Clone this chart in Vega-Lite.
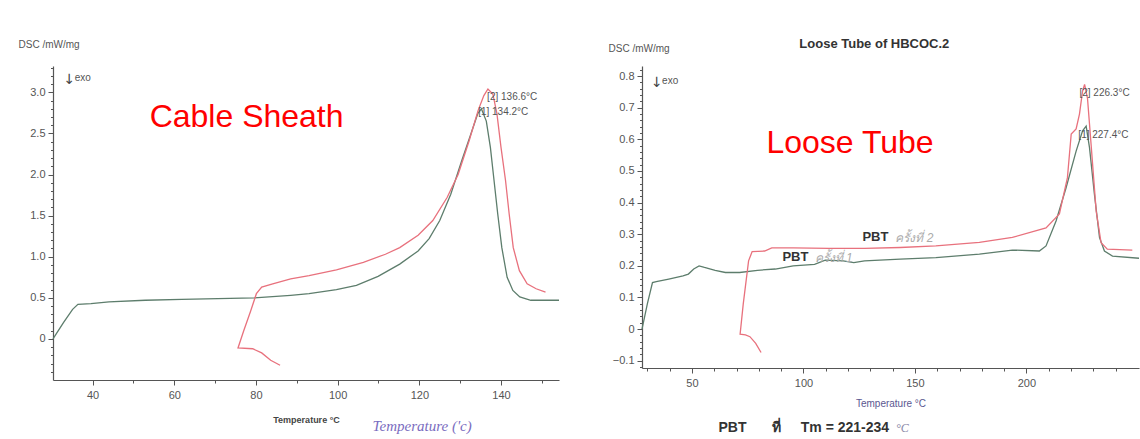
{
  "$schema": "https://vega.github.io/schema/vega-lite/v6.json",
  "background": "#ffffff",
  "padding": {"left": 18, "top": 37, "right": 0, "bottom": 0},
  "spacing": 83,
  "bounds": "flush",
  "config": {
    "view": {"stroke": null},
    "font": "Liberation Sans",
    "axis": {
      "grid": false,
      "domainColor": "#555555",
      "domainWidth": 1.2,
      "tickColor": "#555555",
      "labelColor": "#555555",
      "labelFont": "Liberation Sans",
      "labelFontSize": 11,
      "labelOverlap": false,
      "titleFont": "Liberation Sans"
    }
  },
  "hconcat": [
    {
      "width": 506,
      "height": 314,
      "resolve": {"axis": {"x": "independent", "y": "independent"}},
      "layer": [
        {
          "data": {"values": [
            {"run": "1", "i": 0, "t": 30.3, "v": 0.0},
            {"run": "1", "i": 1, "t": 32.9, "v": 0.2},
            {"run": "1", "i": 2, "t": 35.1, "v": 0.36},
            {"run": "1", "i": 3, "t": 36.4, "v": 0.42},
            {"run": "1", "i": 4, "t": 39.6, "v": 0.43},
            {"run": "1", "i": 5, "t": 44, "v": 0.45},
            {"run": "1", "i": 6, "t": 52.9, "v": 0.47},
            {"run": "1", "i": 7, "t": 61.8, "v": 0.48},
            {"run": "1", "i": 8, "t": 70.7, "v": 0.49},
            {"run": "1", "i": 9, "t": 79.6, "v": 0.5},
            {"run": "1", "i": 10, "t": 88.5, "v": 0.53},
            {"run": "1", "i": 11, "t": 93, "v": 0.55},
            {"run": "1", "i": 12, "t": 99.7, "v": 0.6},
            {"run": "1", "i": 13, "t": 104.6, "v": 0.65},
            {"run": "1", "i": 14, "t": 109.9, "v": 0.76},
            {"run": "1", "i": 15, "t": 115.2, "v": 0.91},
            {"run": "1", "i": 16, "t": 119.7, "v": 1.07},
            {"run": "1", "i": 17, "t": 122.4, "v": 1.22},
            {"run": "1", "i": 18, "t": 125, "v": 1.44},
            {"run": "1", "i": 19, "t": 127.7, "v": 1.76},
            {"run": "1", "i": 20, "t": 130.4, "v": 2.17},
            {"run": "1", "i": 21, "t": 132.6, "v": 2.49},
            {"run": "1", "i": 22, "t": 134.3, "v": 2.74},
            {"run": "1", "i": 23, "t": 135.2, "v": 2.8},
            {"run": "1", "i": 24, "t": 136.4, "v": 2.65},
            {"run": "1", "i": 25, "t": 137.4, "v": 2.33},
            {"run": "1", "i": 26, "t": 138.2, "v": 1.97},
            {"run": "1", "i": 27, "t": 139.2, "v": 1.52},
            {"run": "1", "i": 28, "t": 140.2, "v": 1.11},
            {"run": "1", "i": 29, "t": 141.5, "v": 0.75},
            {"run": "1", "i": 30, "t": 142.9, "v": 0.59},
            {"run": "1", "i": 31, "t": 144.6, "v": 0.51},
            {"run": "1", "i": 32, "t": 147.3, "v": 0.47},
            {"run": "1", "i": 33, "t": 154.2, "v": 0.47},
            {"run": "2", "i": 0, "t": 85.9, "v": -0.32},
            {"run": "2", "i": 1, "t": 83.6, "v": -0.26},
            {"run": "2", "i": 2, "t": 81.4, "v": -0.17},
            {"run": "2", "i": 3, "t": 79.2, "v": -0.12},
            {"run": "2", "i": 4, "t": 75.6, "v": -0.11},
            {"run": "2", "i": 5, "t": 77, "v": 0.1},
            {"run": "2", "i": 6, "t": 78.7, "v": 0.34},
            {"run": "2", "i": 7, "t": 80.1, "v": 0.55},
            {"run": "2", "i": 8, "t": 81.4, "v": 0.63},
            {"run": "2", "i": 9, "t": 84.1, "v": 0.67},
            {"run": "2", "i": 10, "t": 88.5, "v": 0.73},
            {"run": "2", "i": 11, "t": 93, "v": 0.77},
            {"run": "2", "i": 12, "t": 99.7, "v": 0.84},
            {"run": "2", "i": 13, "t": 106.3, "v": 0.93},
            {"run": "2", "i": 14, "t": 111.7, "v": 1.03},
            {"run": "2", "i": 15, "t": 115.2, "v": 1.11},
            {"run": "2", "i": 16, "t": 119.7, "v": 1.26},
            {"run": "2", "i": 17, "t": 123.3, "v": 1.44},
            {"run": "2", "i": 18, "t": 126.8, "v": 1.72},
            {"run": "2", "i": 19, "t": 129.5, "v": 2.0},
            {"run": "2", "i": 20, "t": 132.2, "v": 2.41},
            {"run": "2", "i": 21, "t": 134.4, "v": 2.78},
            {"run": "2", "i": 22, "t": 135.8, "v": 2.96},
            {"run": "2", "i": 23, "t": 136.8, "v": 3.04},
            {"run": "2", "i": 24, "t": 138.0, "v": 2.98},
            {"run": "2", "i": 25, "t": 139.0, "v": 2.74},
            {"run": "2", "i": 26, "t": 140.0, "v": 2.33},
            {"run": "2", "i": 27, "t": 141.1, "v": 1.93},
            {"run": "2", "i": 28, "t": 142.0, "v": 1.52},
            {"run": "2", "i": 29, "t": 143.0, "v": 1.11},
            {"run": "2", "i": 30, "t": 144.5, "v": 0.83},
            {"run": "2", "i": 31, "t": 146.4, "v": 0.67},
            {"run": "2", "i": 32, "t": 148.6, "v": 0.61},
            {"run": "2", "i": 33, "t": 150.9, "v": 0.57}
          ]},
          "mark": {"type": "line", "strokeWidth": 1.3},
          "encoding": {
            "x": {
              "field": "t", "type": "quantitative",
              "scale": {"domain": [30.3, 154.2], "nice": false, "zero": false},
              "axis": {
                "orient": "bottom",
                "values": [40, 60, 80, 100, 120, 140],
                "labelOverlap": false,
                "tickSize": 5,
                "labelPadding": 4,
                "title": "Temperature °C",
                "titleFontSize": 9,
                "titleFontWeight": "bold",
                "titleColor": "#444444",
                "titleBaseline": "middle",
                "titleY": 39
              }
            },
            "y": {
              "field": "v", "type": "quantitative",
              "scale": {"domain": [-0.5, 3.32], "nice": false, "zero": false},
              "axis": {
                "orient": "left",
                "values": [0, 0.5, 1, 1.5, 2, 2.5, 3],
                "labelExpr": "datum.value === 0 ? '0' : format(datum.value, '.1f')",
                "labelOverlap": false,
                "tickSize": 5,
                "labelPadding": 3,
                "title": "DSC /mW/mg",
                "titleAngle": 0,
                "titleAlign": "left",
                "titleBaseline": "middle",
                "titleX": -35,
                "titleY": -22,
                "titleFontSize": 10,
                "titleFontWeight": "normal",
                "titleColor": "#555555"
              }
            },
            "color": {
              "field": "run", "type": "nominal",
              "scale": {"domain": ["1", "2"], "range": ["#5d7d6c", "#e8717d"]},
              "legend": null
            },
            "order": {"field": "i", "type": "quantitative"}
          }
        },
        {
          "data": {"values": [{"t": 77.7, "v": 2.7, "label": "Cable Sheath"}]},
          "mark": {"type": "text", "font": "Liberation Sans", "fontSize": 32, "color": "#ff0000", "align": "center", "baseline": "middle"},
          "encoding": {
            "x": {"field": "t", "type": "quantitative", "axis": {"orient": "bottom", "values": [50, 70, 90, 110, 130, 150], "labels": false, "domain": false, "tickSize": 3, "title": null}},
            "y": {"field": "v", "type": "quantitative", "axis": {"orient": "left", "values": [-0.4, -0.3, -0.2, -0.1, 0.1, 0.2, 0.3, 0.4, 0.6, 0.7, 0.8, 0.9, 1.1, 1.2, 1.3, 1.4, 1.6, 1.7, 1.8, 1.9, 2.1, 2.2, 2.3, 2.4, 2.6, 2.7, 2.8, 2.9, 3.1, 3.2, 3.3], "labels": false, "domain": false, "tickSize": 2.5, "title": null}},
            "text": {"field": "label"}
          }
        },
        {
          "data": {"values": [{"t": 34.3, "v": 3.15, "label": "↓"}]},
          "mark": {"type": "text", "font": "DejaVu Sans", "fontSize": 14, "color": "#444444", "align": "center", "baseline": "middle"},
          "encoding": {
            "x": {"field": "t", "type": "quantitative", "axis": null},
            "y": {"field": "v", "type": "quantitative", "axis": null},
            "text": {"field": "label"}
          }
        },
        {
          "data": {"values": [
            {"t": 35.6, "v": 3.17, "label": "exo"},
            {"t": 136.6, "v": 2.94, "label": "[2] 136.6°C"},
            {"t": 134.4, "v": 2.76, "label": "[1] 134.2°C"}
          ]},
          "mark": {"type": "text", "font": "Liberation Sans", "fontSize": 10, "color": "#555555", "align": "left", "baseline": "middle"},
          "encoding": {
            "x": {"field": "t", "type": "quantitative", "axis": null},
            "y": {"field": "v", "type": "quantitative", "axis": null},
            "text": {"field": "label"}
          }
        },
        {
          "data": {"values": [{"t": 120.7, "v": -1.06, "label": "Temperature ('c)"}]},
          "mark": {"type": "text", "font": "Liberation Serif", "fontStyle": "italic", "fontSize": 15, "color": "#7a6cc0", "align": "center", "baseline": "middle"},
          "encoding": {
            "x": {"field": "t", "type": "quantitative", "axis": null},
            "y": {"field": "v", "type": "quantitative", "axis": null},
            "text": {"field": "label"}
          }
        }
      ]
    },
    {
      "width": 497,
      "height": 302,
      "resolve": {"axis": {"x": "independent", "y": "independent"}},
      "layer": [
        {
          "data": {"values": [
            {"run": "1", "i": 0, "t": 27.6, "v": 0.0},
            {"run": "1", "i": 1, "t": 30, "v": 0.08},
            {"run": "1", "i": 2, "t": 32.3, "v": 0.147},
            {"run": "1", "i": 3, "t": 34, "v": 0.15},
            {"run": "1", "i": 4, "t": 39.6, "v": 0.158},
            {"run": "1", "i": 5, "t": 46, "v": 0.168},
            {"run": "1", "i": 6, "t": 48.4, "v": 0.174},
            {"run": "1", "i": 7, "t": 50.8, "v": 0.19},
            {"run": "1", "i": 8, "t": 53.2, "v": 0.2},
            {"run": "1", "i": 9, "t": 55.6, "v": 0.195},
            {"run": "1", "i": 10, "t": 60.4, "v": 0.186},
            {"run": "1", "i": 11, "t": 65, "v": 0.179},
            {"run": "1", "i": 12, "t": 71.4, "v": 0.179},
            {"run": "1", "i": 13, "t": 79.4, "v": 0.186},
            {"run": "1", "i": 14, "t": 87.4, "v": 0.19},
            {"run": "1", "i": 15, "t": 95.4, "v": 0.2},
            {"run": "1", "i": 16, "t": 105, "v": 0.205},
            {"run": "1", "i": 17, "t": 109.8, "v": 0.218},
            {"run": "1", "i": 18, "t": 117.8, "v": 0.216},
            {"run": "1", "i": 19, "t": 122.6, "v": 0.21},
            {"run": "1", "i": 20, "t": 127.4, "v": 0.216},
            {"run": "1", "i": 21, "t": 143.4, "v": 0.221},
            {"run": "1", "i": 22, "t": 159.4, "v": 0.226},
            {"run": "1", "i": 23, "t": 178.9, "v": 0.237},
            {"run": "1", "i": 24, "t": 193.7, "v": 0.25},
            {"run": "1", "i": 25, "t": 205.8, "v": 0.247},
            {"run": "1", "i": 26, "t": 208.8, "v": 0.263},
            {"run": "1", "i": 27, "t": 213.3, "v": 0.342},
            {"run": "1", "i": 28, "t": 217.8, "v": 0.447},
            {"run": "1", "i": 29, "t": 222.3, "v": 0.563},
            {"run": "1", "i": 30, "t": 225.2, "v": 0.627},
            {"run": "1", "i": 31, "t": 226.8, "v": 0.642},
            {"run": "1", "i": 32, "t": 228.3, "v": 0.574},
            {"run": "1", "i": 33, "t": 230.5, "v": 0.427},
            {"run": "1", "i": 34, "t": 232.8, "v": 0.289},
            {"run": "1", "i": 35, "t": 235, "v": 0.247},
            {"run": "1", "i": 36, "t": 238.6, "v": 0.231},
            {"run": "1", "i": 37, "t": 250.5, "v": 0.224},
            {"run": "2", "i": 0, "t": 81, "v": -0.074},
            {"run": "2", "i": 1, "t": 78.6, "v": -0.045},
            {"run": "2", "i": 2, "t": 76, "v": -0.024},
            {"run": "2", "i": 3, "t": 74, "v": -0.018},
            {"run": "2", "i": 4, "t": 71.6, "v": -0.016},
            {"run": "2", "i": 5, "t": 73, "v": 0.079},
            {"run": "2", "i": 6, "t": 75.4, "v": 0.216},
            {"run": "2", "i": 7, "t": 77, "v": 0.245},
            {"run": "2", "i": 8, "t": 82.6, "v": 0.247},
            {"run": "2", "i": 9, "t": 85.8, "v": 0.257},
            {"run": "2", "i": 10, "t": 95.4, "v": 0.257},
            {"run": "2", "i": 11, "t": 111.4, "v": 0.255},
            {"run": "2", "i": 12, "t": 127.4, "v": 0.255},
            {"run": "2", "i": 13, "t": 143.4, "v": 0.258},
            {"run": "2", "i": 14, "t": 159.4, "v": 0.263},
            {"run": "2", "i": 15, "t": 178.9, "v": 0.274},
            {"run": "2", "i": 16, "t": 193.7, "v": 0.29},
            {"run": "2", "i": 17, "t": 208.8, "v": 0.32},
            {"run": "2", "i": 18, "t": 214.8, "v": 0.364},
            {"run": "2", "i": 19, "t": 218.4, "v": 0.479},
            {"run": "2", "i": 20, "t": 220.1, "v": 0.617},
            {"run": "2", "i": 21, "t": 222.3, "v": 0.633},
            {"run": "2", "i": 22, "t": 223.8, "v": 0.68},
            {"run": "2", "i": 23, "t": 225.2, "v": 0.753},
            {"run": "2", "i": 24, "t": 226.1, "v": 0.774},
            {"run": "2", "i": 25, "t": 227.4, "v": 0.73},
            {"run": "2", "i": 26, "t": 229, "v": 0.585},
            {"run": "2", "i": 27, "t": 231.3, "v": 0.373},
            {"run": "2", "i": 28, "t": 233.5, "v": 0.273},
            {"run": "2", "i": 29, "t": 236.3, "v": 0.253},
            {"run": "2", "i": 30, "t": 247.5, "v": 0.25}
          ]},
          "mark": {"type": "line", "strokeWidth": 1.3},
          "encoding": {
            "x": {
              "field": "t", "type": "quantitative",
              "scale": {"domain": [27.6, 250.5], "nice": false, "zero": false},
              "axis": {
                "orient": "bottom",
                "values": [50, 100, 150, 200],
                "labelOverlap": false,
                "tickSize": 5,
                "labelPadding": 4,
                "title": "Temperature °C",
                "titleFontSize": 10,
                "titleFontWeight": "normal",
                "titleColor": "#5b5790",
                "titleBaseline": "middle",
                "titleY": 35
              }
            },
            "y": {
              "field": "v", "type": "quantitative",
              "scale": {"domain": [-0.123, 0.832], "nice": false, "zero": false},
              "axis": {
                "orient": "left",
                "values": [-0.1, 0, 0.1, 0.2, 0.3, 0.4, 0.5, 0.6, 0.7, 0.8],
                "labelExpr": "datum.value === 0 ? '0' : format(datum.value, '.1f')",
                "labelOverlap": false,
                "tickSize": 5,
                "labelPadding": 3,
                "title": "DSC /mW/mg",
                "titleAngle": 0,
                "titleAlign": "left",
                "titleBaseline": "middle",
                "titleX": -34,
                "titleY": -18,
                "titleFontSize": 10,
                "titleFontWeight": "normal",
                "titleColor": "#555555"
              }
            },
            "color": {
              "field": "run", "type": "nominal",
              "scale": {"domain": ["1", "2"], "range": ["#5d7d6c", "#e8717d"]},
              "legend": null
            },
            "order": {"field": "i", "type": "quantitative"}
          }
        },
        {
          "data": {"values": [{"t": 120.9, "v": 0.59, "label": "Loose Tube"}]},
          "mark": {"type": "text", "font": "Liberation Sans", "fontSize": 32, "color": "#ff0000", "align": "center", "baseline": "middle"},
          "encoding": {
            "x": {"field": "t", "type": "quantitative", "axis": {"orient": "bottom", "values": [30, 40, 60, 70, 80, 90, 110, 120, 130, 140, 160, 170, 180, 190, 210, 220, 230, 240], "labels": false, "domain": false, "tickSize": 3, "title": null}},
            "y": {"field": "v", "type": "quantitative", "axis": {"orient": "left", "values": [-0.12, -0.08, -0.06, -0.04, -0.02, 0.02, 0.04, 0.06, 0.08, 0.12, 0.14, 0.16, 0.18, 0.22, 0.24, 0.26, 0.28, 0.32, 0.34, 0.36, 0.38, 0.42, 0.44, 0.46, 0.48, 0.52, 0.54, 0.56, 0.58, 0.62, 0.64, 0.66, 0.68, 0.72, 0.74, 0.76, 0.78, 0.82], "labels": false, "domain": false, "tickSize": 2.5, "title": null}},
            "text": {"field": "label"}
          }
        },
        {
          "data": {"values": [{"t": 131.8, "v": 0.902, "label": "Loose Tube of HBCOC.2"}]},
          "mark": {"type": "text", "font": "Liberation Sans", "fontSize": 13, "fontWeight": "bold", "color": "#333333", "align": "center", "baseline": "middle"},
          "encoding": {
            "x": {"field": "t", "type": "quantitative", "axis": null},
            "y": {"field": "v", "type": "quantitative", "axis": null},
            "text": {"field": "label"}
          }
        },
        {
          "data": {"values": [{"t": 34.3, "v": 0.779, "label": "↓"}]},
          "mark": {"type": "text", "font": "DejaVu Sans", "fontSize": 14, "color": "#444444", "align": "center", "baseline": "middle"},
          "encoding": {
            "x": {"field": "t", "type": "quantitative", "axis": null},
            "y": {"field": "v", "type": "quantitative", "axis": null},
            "text": {"field": "label"}
          }
        },
        {
          "data": {"values": [
            {"t": 36.6, "v": 0.785, "label": "exo"},
            {"t": 223.8, "v": 0.748, "label": "[2] 226.3°C"},
            {"t": 223.3, "v": 0.614, "label": "[1] 227.4°C"}
          ]},
          "mark": {"type": "text", "font": "Liberation Sans", "fontSize": 10, "color": "#555555", "align": "left", "baseline": "middle"},
          "encoding": {
            "x": {"field": "t", "type": "quantitative", "axis": null},
            "y": {"field": "v", "type": "quantitative", "axis": null},
            "text": {"field": "label"}
          }
        },
        {
          "data": {"values": [
            {"t": 132.3, "v": 0.291, "label": "PBT"},
            {"t": 96.4, "v": 0.229, "label": "PBT"}
          ]},
          "mark": {"type": "text", "font": "Liberation Sans", "fontSize": 13, "fontWeight": "bold", "color": "#333333", "align": "center", "baseline": "middle"},
          "encoding": {
            "x": {"field": "t", "type": "quantitative", "axis": null},
            "y": {"field": "v", "type": "quantitative", "axis": null},
            "text": {"field": "label"}
          }
        },
        {
          "data": {"values": [
            {"t": 141.2, "v": 0.288, "label": "ครั้งที่ 2"},
            {"t": 105, "v": 0.226, "label": "ครั้งที่ 1"}
          ]},
          "mark": {"type": "text", "fontSize": 12, "fontStyle": "italic", "color": "#aaaaaa", "align": "left", "baseline": "middle"},
          "encoding": {
            "x": {"field": "t", "type": "quantitative", "axis": null},
            "y": {"field": "v", "type": "quantitative", "axis": null},
            "text": {"field": "label"}
          }
        },
        {
          "data": {"values": [
            {"t": 61.9, "v": -0.313, "label": "PBT"},
            {"t": 86.0, "v": -0.313, "label": "ที่"},
            {"t": 98.8, "v": -0.313, "label": "Tm = 221-234"}
          ]},
          "mark": {"type": "text", "font": "Liberation Sans", "fontSize": 14, "fontWeight": "bold", "color": "#333333", "align": "left", "baseline": "middle"},
          "encoding": {
            "x": {"field": "t", "type": "quantitative", "axis": null},
            "y": {"field": "v", "type": "quantitative", "axis": null},
            "text": {"field": "label"}
          }
        },
        {
          "data": {"values": [{"t": 141.5, "v": -0.313, "label": "°C"}]},
          "mark": {"type": "text", "font": "Liberation Serif", "fontStyle": "italic", "fontSize": 12, "color": "#8a88a8", "align": "left", "baseline": "middle"},
          "encoding": {
            "x": {"field": "t", "type": "quantitative", "axis": null},
            "y": {"field": "v", "type": "quantitative", "axis": null},
            "text": {"field": "label"}
          }
        }
      ]
    }
  ]
}
